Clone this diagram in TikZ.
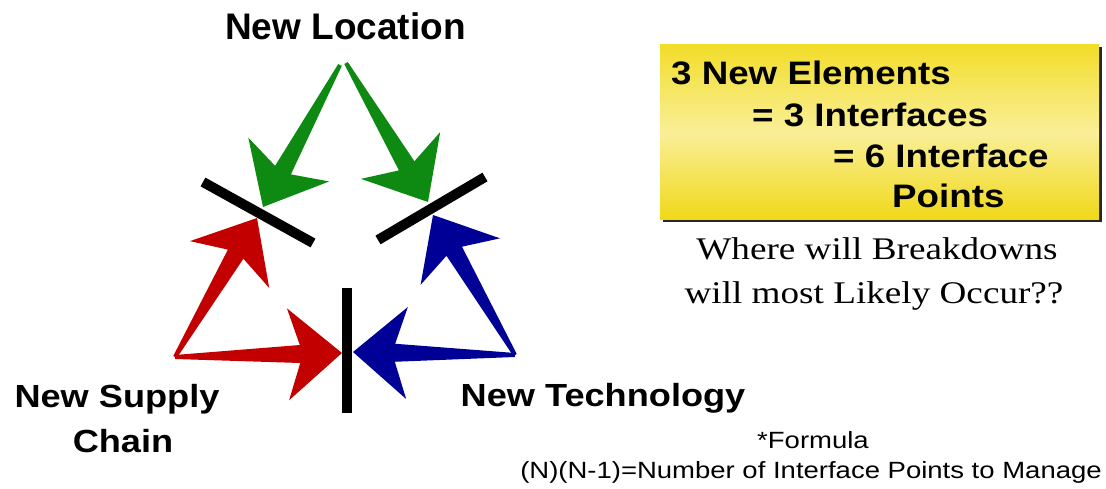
\documentclass[tikz,border=0pt]{standalone}
\usepackage{fontspec}
\setmainfont{Liberation Sans}
\newfontfamily\serifx{Liberation Serif}
\usetikzlibrary{calc,shadows}
\definecolor{agreen}{HTML}{0E8A12}
\definecolor{ared}{HTML}{C20000}
\definecolor{ablue}{HTML}{000096}
\definecolor{ytop}{HTML}{F2DD2A}
\definecolor{ymid}{HTML}{F9EF98}
\definecolor{ybot}{HTML}{F0D818}
\newcommand{\fatarrow}[3]{%
  \coordinate (fab) at ($(#3)!54pt!(#2)$);
  \coordinate (fan) at ($(#3)!42pt!(#2)$);
  \fill[#1] (#3) -- ($(fab)!46pt!90:(#3)$) -- ($(fan)!9pt!90:(#3)$)
    -- ($(#2)!2pt!90:(#3)$) -- ($(#2)!2pt!-90:(#3)$)
    -- ($(fan)!9pt!-90:(#3)$) -- ($(fab)!46pt!-90:(#3)$) -- cycle;}
\begin{document}
\begin{tikzpicture}[x=1pt,y=-1pt,
  bigl/.style={font=\bfseries\fontsize{32}{36}\selectfont, inner sep=0pt, anchor=base},
  boxt/.style={font=\bfseries\fontsize{32.5}{36}\selectfont, inner sep=0pt, anchor=base west},
  sert/.style={font=\serifx\fontsize{31.5}{36}\selectfont, inner sep=0pt, anchor=base},
  fort/.style={font=\fontsize{23.5}{28}\selectfont, inner sep=0pt, anchor=base},
  bar/.style={line width=10pt, black}]
\useasboundingbox (0,0) rectangle (1106,489);
% labels
\node[bigl, font=\bfseries\fontsize{37}{40}\selectfont] (loc) at (345.5,40) {New Location};
\node[bigl] (sup1) at (117,407) {\scalebox{1.13}[1]{New Supply}};
\node[bigl] (sup2) at (123,452) {\scalebox{1.13}[1]{Chain}};
\node[bigl] (tech) at (603,406) {\scalebox{1.13}[1]{New Technology}};
% arrow end points
\coordinate (gOL) at (340,65);
\coordinate (gOR) at (346,63);
\coordinate (gTL) at (263,207);
\coordinate (gTR) at (428,202);
\coordinate (rO) at (175,357);
\coordinate (rTU) at (257,218);
\coordinate (rTR) at (342,353);
\coordinate (bO) at (515,355);
\coordinate (bTL) at (353,352);
\coordinate (bTU) at (433,215);
% interface bars
\coordinate (b1a) at (203,182); \coordinate (b1b) at (313,243);
\coordinate (b2a) at (485,177); \coordinate (b2b) at (378,240);
\coordinate (b3a) at (347,288); \coordinate (b3b) at (347,413);
\draw[bar] (b1a) -- (b1b);
\draw[bar] (b2a) -- (b2b);
\draw[bar] (b3a) -- (b3b);
% arrows
\fatarrow{agreen}{gOL}{gTL}
\fatarrow{agreen}{gOR}{gTR}
\fatarrow{ared}{rO}{rTU}
\fatarrow{ared}{rO}{rTR}
\fatarrow{ablue}{bO}{bTL}
\fatarrow{ablue}{bO}{bTU}
% yellow box
\node[minimum width=439pt, minimum height=175pt, inner sep=0pt,
  top color=ytop, bottom color=ybot, middle color=ymid,
  drop shadow={shadow xshift=2.5pt, shadow yshift=-2.5pt, fill=black!85, opacity=1}]
  (box) at (879.5,132.5) {};
\node[boxt] (l1) at (671,85) {\scalebox{1.13}[1]{3 New Elements}};
\node[boxt] (l2) at (752,127) {\scalebox{1.13}[1]{= 3 Interfaces}};
\node[boxt] (l3) at (833,168) {\scalebox{1.13}[1]{= 6 Interface}};
\node[boxt] (l4) at (892,208) {\scalebox{1.13}[1]{Points}};
% question
\node[sert] (q1) at (877,259) {\scalebox{1.18}[1]{Where will Breakdowns}};
\node[sert] (q2) at (874,303) {\scalebox{1.18}[1]{will most Likely Occur??}};
% formula
\node[fort] (f1) at (813,448) {\scalebox{1.17}[1]{*Formula}};
\node[fort] (f2) at (811,478) {\scalebox{1.17}[1]{(N)(N-1)=Number of Interface Points to Manage}};
\end{tikzpicture}
\end{document}
